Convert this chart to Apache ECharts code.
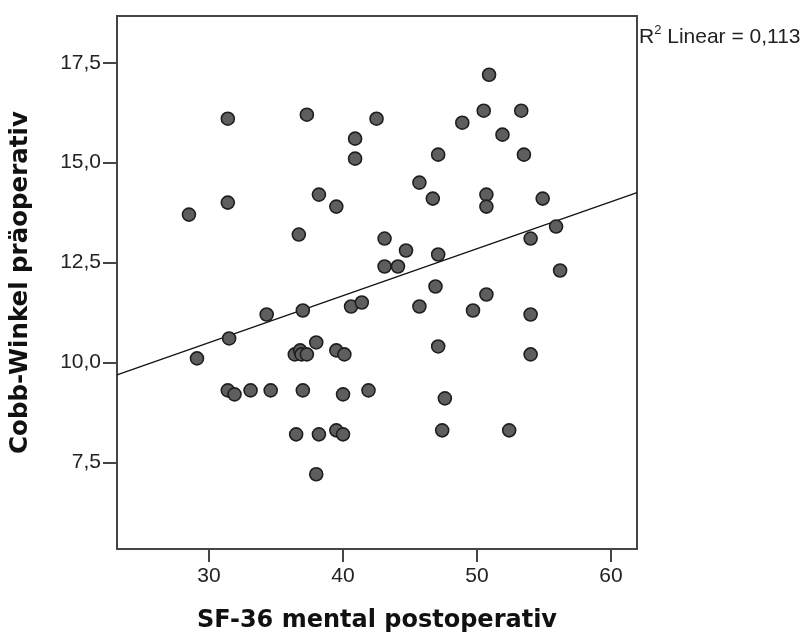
<!DOCTYPE html>
<html>
<head>
<meta charset="utf-8">
<script src="https://cdn.jsdelivr.net/npm/echarts@6/dist/echarts.min.js"></script>
<style>html,body{margin:0;padding:0;background:#fff}#c{width:811px;height:640px}</style>
</head>
<body>
<div id="c"></div>
<script>
// SF-36 mental postoperativ (x) vs Cobb-Winkel präoperativ (y)
const sf36 = [28.5, 29.1, 31.4, 31.4, 31.5, 31.4, 31.9, 33.1, 34.3, 34.6,
  36.5, 36.4, 36.8, 36.9, 37.3, 36.7, 37.0, 37.0, 37.3, 38.0,
  38.0, 38.2, 38.2, 39.5, 39.5, 39.5, 40.0, 40.0, 40.1, 40.6,
  40.9, 40.9, 41.4, 41.9, 42.5, 43.1, 43.1, 44.1, 44.7, 45.7,
  45.7, 46.7, 46.9, 47.1, 47.1, 47.1, 47.4, 47.6, 48.9, 49.7,
  50.5, 50.7, 50.7, 50.7, 50.9, 51.9, 52.4, 53.3, 53.5, 54.0,
  54.0, 54.0, 54.9, 55.9, 56.2];
const cobb = [13.7, 10.1, 16.1, 14.0, 10.6, 9.3, 9.2, 9.3, 11.2, 9.3,
  8.2, 10.2, 10.3, 10.2, 10.2, 13.2, 11.3, 9.3, 16.2, 7.2,
  10.5, 8.2, 14.2, 10.3, 13.9, 8.3, 9.2, 8.2, 10.2, 11.4,
  15.6, 15.1, 11.5, 9.3, 16.1, 13.1, 12.4, 12.4, 12.8, 14.5,
  11.4, 14.1, 11.9, 10.4, 15.2, 12.7, 8.3, 9.1, 16.0, 11.3,
  16.3, 14.2, 13.9, 11.7, 17.2, 15.7, 8.3, 16.3, 15.2, 13.1,
  11.2, 10.2, 14.1, 13.4, 12.3];
const xTicks = [30, 40, 50, 60];
const yTicks = [7.5, 10, 12.5, 15, 17.5];
const xRange = [23.13, 61.94];
const yRange = [5.33, 18.67];
const fitIntercept = 6.97;
const fitSlope = 0.1175;
const r2Text = 'Linear = 0,113';
const xTitle = 'SF-36 mental postoperativ';
const yTitle = 'Cobb-Winkel präoperativ';

const points = sf36.map((v, i) => [v, cobb[i]]);
const fitLine = xRange.map(x => [x, fitIntercept + fitSlope * x]);

const chart = echarts.init(document.getElementById('c'), null, {renderer: 'canvas'});
const frame = '#454545';
chart.setOption({
  animation: false,
  backgroundColor: '#fff',
  title: {
    left: 639, top: 24, padding: 0,
    text: '{r|R}{s|2}{r| ' + r2Text + '}',
    textStyle: {
      fontWeight: 'normal',
      rich: {
        r: {fontFamily: 'Liberation Sans', fontWeight: 'normal', fontSize: 21, color: '#222', verticalAlign: 'bottom', lineHeight: 24},
        s: {fontFamily: 'Liberation Sans', fontWeight: 'normal', fontSize: 13, color: '#222', verticalAlign: 'top', lineHeight: 24, padding: [0, 0, 10, 0]}
      }
    }
  },
  grid: {left: 117, top: 16, right: 174, bottom: 91, show: true, borderColor: frame, borderWidth: 2, backgroundColor: '#fff'},
  xAxis: {
    type: 'value', min: xRange[0], max: xRange[1],
    splitLine: {show: false},
    axisLine: {show: false},
    axisTick: {show: true, length: 13, lineStyle: {color: frame, width: 2}, customValues: xTicks},
    axisLabel: {customValues: xTicks, margin: 17, fontFamily: 'Liberation Sans', fontSize: 21, color: '#222'},
    name: xTitle, nameLocation: 'middle', nameGap: 60,
    nameTextStyle: {fontFamily: 'DejaVu Sans', fontWeight: 'bold', fontSize: 24, color: '#111'}
  },
  yAxis: {
    type: 'value', min: yRange[0], max: yRange[1],
    splitLine: {show: false},
    axisLine: {show: false},
    axisTick: {show: true, length: 14, lineStyle: {color: frame, width: 2}, customValues: yTicks},
    axisLabel: {customValues: yTicks, margin: 16, fontFamily: 'Liberation Sans', fontSize: 21, color: '#222',
      formatter: v => v.toFixed(1).replace('.', ',')},
    name: yTitle, nameLocation: 'middle', nameGap: 84,
    nameTextStyle: {fontFamily: 'DejaVu Sans', fontWeight: 'bold', fontSize: 24.5, color: '#111'}
  },
  series: [
    {
      type: 'line', data: fitLine, symbol: 'none', silent: true,
      lineStyle: {color: '#111', width: 1.2}, z: 2
    },
    {
      type: 'scatter', data: points, symbol: 'circle', symbolSize: 13,
      itemStyle: {color: '#5e5e5e', borderColor: '#1e1e1e', borderWidth: 1.6, opacity: 1}, z: 3
    }
  ]
});
</script>
</body>
</html>
